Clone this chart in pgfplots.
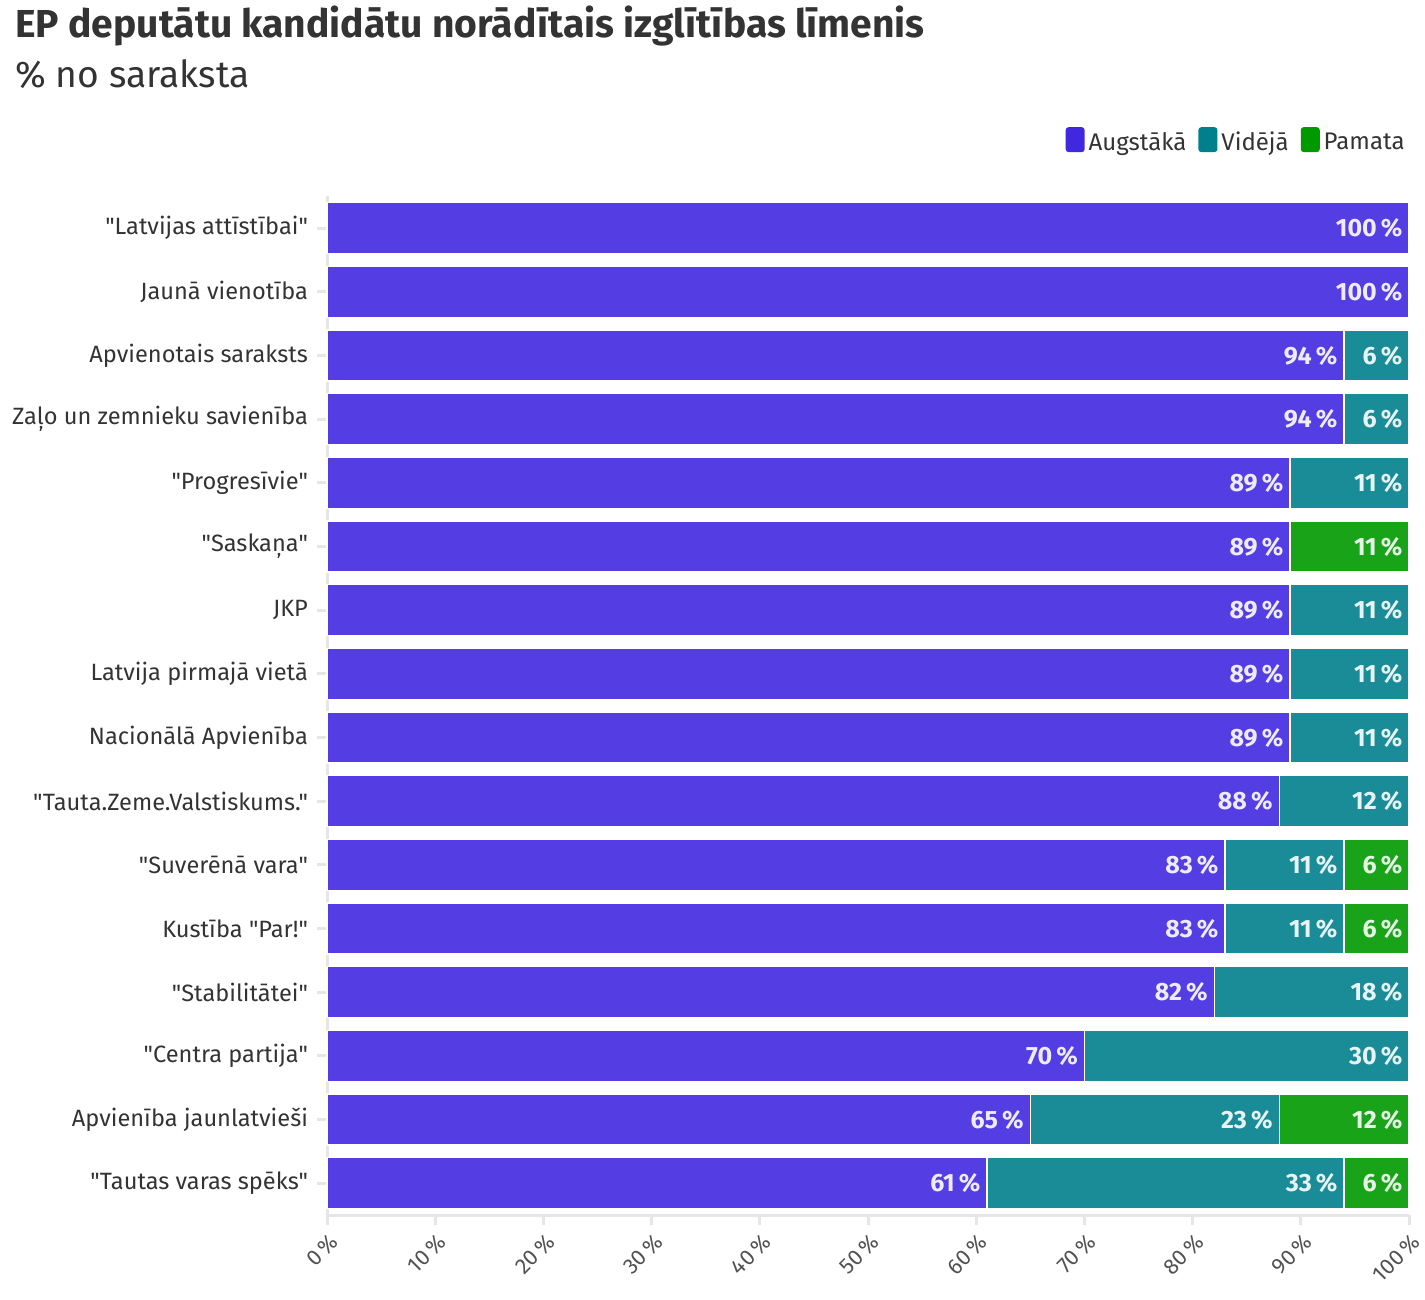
\documentclass[border=0pt]{standalone}
\usepackage{fontspec}
\setmainfont{Fira Sans}[Ligatures=TeXOff]
\usepackage{pgfplots}
\pgfplotsset{compat=1.18}
\usepackage{pgfplotstable}
\definecolor{augc}{HTML}{4028E0}
\definecolor{vidc}{HTML}{00808C}
\definecolor{pamc}{HTML}{009900}
\definecolor{txt}{HTML}{333333}
\definecolor{axc}{HTML}{E6E6E6}
\pgfplotstableread{
y a v p la lv lp
15 100 0 0 100 0 0
14 100 0 0 100 0 0
13 94 6 0 94 6 0
12 94 6 0 94 6 0
11 89 11 0 89 11 0
10 89 0 11 89 0 11
9 89 11 0 89 11 0
8 89 11 0 89 11 0
7 89 11 0 89 11 0
6 88 12 0 88 12 0
5 83 11 6 83 11 6
4 83 11 6 83 11 6
3 82 18 0 82 18 0
2 70 30 0 70 30 0
1 65 23 12 65 23 12
0 61 33 6 61 33 6
}\data
\begin{document}
\begin{tikzpicture}
\path[use as bounding box] (0,0) rectangle (712.5pt,-650pt);
\node[anchor=base west, text=txt, inner sep=0pt] at (7.5pt,-19pt) {\fontsize{19.5}{22}\selectfont\bfseries EP deputātu kandidātu norādītais izglītības līmenis};
\node[anchor=base west, text=txt, inner sep=0pt] at (7.5pt,-44pt) {\fontsize{18.6}{21}\selectfont\% no saraksta};
\begin{axis}[
  at={(163.5pt,-607.5pt)}, anchor=south west,
  width=541pt, height=509.3pt, scale only axis,
  xbar stacked, bar width=0.8,
  xmin=0, xmax=100, ymin=-0.5, ymax=15.5,
  axis x line*=bottom, axis y line*=left,
  axis line style={draw=axc, line width=1.5pt, -},
  tick style={draw=axc, line width=1.5pt},
  major tick length=5pt, tick align=outside,
  ytick={0,...,15},
  yticklabels={"Tautas varas spēks",Apvienība jaunlatvieši,"Centra partija","Stabilitātei",Kustība "Par!","Suverēnā vara","Tauta.Zeme.Valstiskums.",Nacionālā Apvienība,Latvija pirmajā vietā,JKP,"Saskaņa","Progresīvie",Zaļo un zemnieku savienība,Apvienotais saraksts,Jaunā vienotība,"Latvijas attīstībai"},
  y tick label style={font=\fontsize{11.8}{13}\selectfont, text=txt, xshift=-1pt},
  xtick={0,10,...,100},
  /pgf/number format/assume math mode=true,
  xticklabel={\pgfmathprintnumber{\tick}\,\%},
  x tick label style={rotate=45, anchor=north east, font=\fontsize{11}{12}\selectfont, text=txt!85, xshift=-1pt, yshift=-2pt, inner sep=1pt},
  point meta=explicit symbolic,
  nodes near coords style={anchor=east, text=white, inner xsep=0pt, font=\fontsize{12.5}{14}\selectfont\bfseries},
  legend columns=3,
  legend style={at={(1,1)}, anchor=south east, yshift=17pt, xshift=3pt, draw=none, fill=none,
    font=\fontsize{12}{14}\selectfont, text=txt,
    nodes={inner xsep=2pt},
    /tikz/every even column/.append style={column sep=4pt}},
  legend image code/.code={\fill[#1, fill opacity=1, draw=none, rounded corners=1.5pt] (0pt,-4.5pt) rectangle (9.5pt,8pt);},
  clip=false,
]
\addplot[fill=augc, fill opacity=0.9, draw=white, line width=0.6pt,
  visualization depends on={\thisrow{a} \as \segw},
  every node near coord/.append style={xshift={\segw*2.705pt-3pt}},
  nodes near coords={\ifnum\pgfplotspointmeta=0 \else\pgfplotspointmeta\,\%\fi}]
  table[x=a, y=y, meta=la] {\data};
\addplot[fill=vidc, fill opacity=0.9, draw=white, line width=0.6pt,
  visualization depends on={\thisrow{v} \as \segw},
  every node near coord/.append style={xshift={\segw*2.705pt-3pt}},
  nodes near coords={\ifnum\pgfplotspointmeta=0 \else\pgfplotspointmeta\,\%\fi}]
  table[x=v, y=y, meta=lv] {\data};
\addplot[fill=pamc, fill opacity=0.9, draw=white, line width=0.6pt,
  visualization depends on={\thisrow{p} \as \segw},
  every node near coord/.append style={xshift={\segw*2.705pt-3pt}},
  nodes near coords={\ifnum\pgfplotspointmeta=0 \else\pgfplotspointmeta\,\%\fi}]
  table[x=p, y=y, meta=lp] {\data};
\legend{Augstākā, Vidējā, Pamata}
\end{axis}
\end{tikzpicture}
\end{document}
